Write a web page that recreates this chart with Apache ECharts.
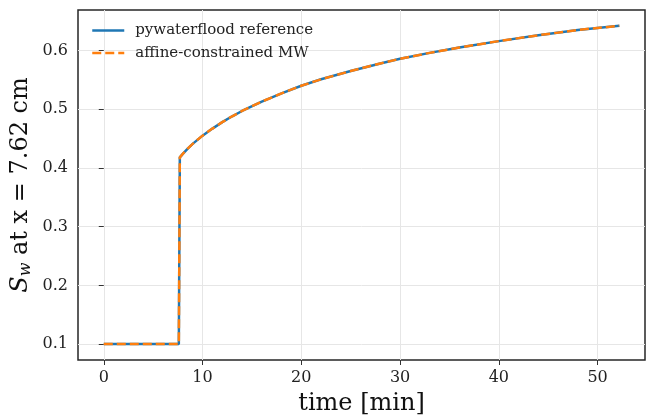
<!DOCTYPE html>
<html>
<head>
<meta charset="utf-8">
<script src="https://cdn.jsdelivr.net/npm/echarts@6/dist/echarts.min.js"></script>
<style>
  html, body { margin: 0; padding: 0; background: #fff; }
  #main { width: 649px; height: 416px; }
</style>
</head>
<body>
<div id="main"></div>
<script>
// time [min] and saturation at x = 7.62 cm
const timeMin = [0, 7.6, 7.7, 8, 8.5, 9, 10, 11, 12, 13, 14, 16, 18, 20, 22, 25, 28, 30, 33, 36, 40, 44, 48, 52.2];
const swRef = [0.1, 0.1, 0.418, 0.424, 0.433, 0.441, 0.455, 0.467, 0.478, 0.488, 0.497, 0.513, 0.527, 0.540, 0.551, 0.565, 0.578, 0.586, 0.596, 0.605, 0.616, 0.626, 0.635, 0.642];
const swMW = swRef.slice();
const xTicks = [0, 10, 20, 30, 40, 50];
const yTicks = [0.1, 0.2, 0.3, 0.4, 0.5, 0.6];

const font = 'DejaVu Serif';
const pairs = (xs, ys) => xs.map((x, i) => [x, ys[i]]);

const chart = echarts.init(document.getElementById('main'));
chart.setOption({
  animation: false,
  grid: {
    left: 78, right: 4, top: 10, bottom: 56,
    outerBoundsMode: 'none',
    show: true, borderColor: '#262626', borderWidth: 1.5
  },
  legend: {
    left: 86, top: 18, orient: 'vertical', itemGap: 7.5,
    itemWidth: 32, itemHeight: 16,
    itemStyle: { opacity: 0 },
    lineStyle: { width: 2.5 },
    textStyle: { fontFamily: font, fontSize: 15, color: '#222', padding: [0, 0, 0, 6] },
    data: ['pywaterflood reference', 'affine-constrained MW']
  },
  xAxis: {
    type: 'value', min: -2.61, max: 54.8,
    name: 'time [min]', nameLocation: 'middle', nameGap: 32,
    nameMoveOverlap: false,
    nameTextStyle: { fontFamily: font, fontSize: 24, color: '#111' },
    axisLine: { show: false },
    axisTick: { show: true, customValues: xTicks, length: 5, lineStyle: { color: '#333' } },
    axisLabel: { customValues: xTicks, fontFamily: font, fontSize: 16, color: '#222', margin: 10 },
    splitLine: { show: true, lineStyle: { color: '#e6e6e6', width: 1 } }
  },
  yAxis: {
    type: 'value', min: 0.0729, max: 0.669,
    name: '{s|S}{sub|w}{t| at x = 7.62 cm}', nameLocation: 'middle', nameGap: 44,
    nameMoveOverlap: false,
    nameTextStyle: {
      fontFamily: font, fontSize: 24, color: '#111',
      rich: {
        s: { fontFamily: font, fontSize: 24, fontStyle: 'italic', color: '#111' },
        sub: { fontFamily: font, fontSize: 16, fontStyle: 'italic', color: '#111', padding: [10, 0, 0, 0] },
        t: { fontFamily: font, fontSize: 24, color: '#111' }
      }
    },
    axisLine: { show: false },
    axisTick: { show: true, customValues: yTicks, length: 5, lineStyle: { color: '#333' } },
    axisLabel: {
      customValues: yTicks, fontFamily: font, fontSize: 16, color: '#222', margin: 10,
      formatter: v => v.toFixed(1)
    },
    splitLine: { show: true, lineStyle: { color: '#e6e6e6', width: 1 } }
  },
  series: [
    {
      name: 'pywaterflood reference', type: 'line', data: pairs(timeMin, swRef),
      symbol: 'none',
      lineStyle: { color: '#1f77b4', width: 2.5 }, itemStyle: { color: '#1f77b4' }
    },
    {
      name: 'affine-constrained MW', type: 'line', data: pairs(timeMin, swMW),
      symbol: 'none',
      lineStyle: { color: '#ff7f0e', width: 2.5, type: [9, 4] }, itemStyle: { color: '#ff7f0e' }
    }
  ]
});
</script>
</body>
</html>
